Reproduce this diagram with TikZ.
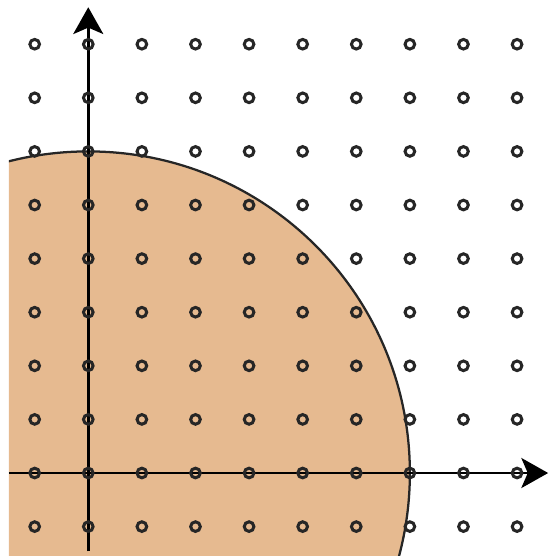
\documentclass[tikz,border=0pt]{standalone}
\usetikzlibrary{arrows.meta}
\definecolor{disk}{RGB}{230,186,144}
\tikzset{
  dot/.style={draw=black!85,line width=1.6pt},
  axis/.style={line width=1.4pt,-{Stealth[length=5mm,width=5.6mm,inset=1.2mm]}},
  rim/.style={draw=black!85,line width=1.2pt},
}
\begin{document}
\begin{tikzpicture}
  \useasboundingbox (-1.647,-1.567) rectangle (8.595,8.825);
  % the disk, cut off at the frame
  \begin{scope}
    \clip (-1.48,-1.53) rectangle (8.6,8.8);
    \fill[disk] (0,0) circle (6);
    \draw[rim] (0,0) circle (6);
  \end{scope}
  \coordinate (xs) at (-1.48,0);
  \coordinate (xe) at (8.58,0);
  \coordinate (ys) at (0,-1.46);
  \coordinate (ye) at (0,8.69);
  \draw[axis] (xs) -- (xe);
  \draw[axis] (ys) -- (ye);
  % lattice points
  \foreach \i in {-1,...,8}
    \foreach \j in {-1,...,8}
      \draw[dot] (\i,\j) circle (0.09);
\end{tikzpicture}
\end{document}
